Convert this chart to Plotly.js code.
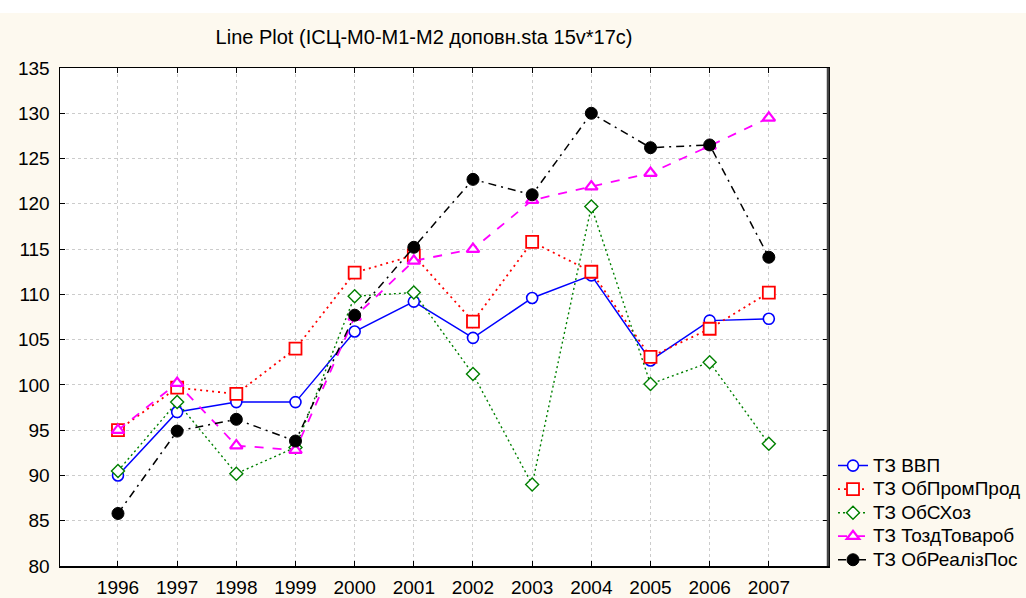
<!DOCTYPE html>
<html>
<head>
<meta charset="utf-8">
<script src="https://cdn.plot.ly/plotly-3.0.1.min.js"></script>
<style>
  html, body { margin: 0; padding: 0; background: #ffffff; }
  #chart { position: absolute; left: 0; top: 13px; width: 1026px; height: 585px; }
</style>
</head>
<body>
<div id="chart"></div>
<script>
const years = [1996, 1997, 1998, 1999, 2000, 2001, 2002, 2003, 2004, 2005, 2006, 2007];
const seriesNames = ["ТЗ ВВП", "ТЗ ОбПромПрод", "ТЗ ОбСХоз", "ТЗ ТоздТовароб", "ТЗ ОбРеалізПос"];
const vvp        = [90.0, 97.0, 98.1, 98.1, 105.9, 109.2, 105.2, 109.6, 112.1, 102.7, 107.1, 107.3];
const obPromProd = [95.0, 99.7, 99.0, 104.0, 112.4, 114.3, 107.0, 115.8, 112.5, 103.1, 106.2, 110.2];
const obSHoz     = [90.5, 98.1, 90.2, 93.1, 109.8, 110.2, 101.2, 89.0, 119.7, 100.1, 102.5, 93.5];
const tozdTovar  = [95.0, 100.2, 93.3, 92.8, 107.5, 113.7, 115.0, 120.4, 121.9, 123.4, 126.4, 129.5];
const obRealiz   = [85.8, 94.9, 96.2, 93.8, 107.7, 115.2, 122.7, 121.0, 130.0, 126.2, 126.5, 114.1];
const yTicks = [80, 85, 90, 95, 100, 105, 110, 115, 120, 125, 130, 135];
const titleText = "Line Plot (ІСЦ-М0-М1-М2 доповн.sta 15v*17c)";

const font = "Liberation Sans, Arial, sans-serif";

function tr(y, name, color, dash, width, symbol, size, fill, mlw) {
  return {
    type: "scatter", mode: "lines+markers", x: years, y: y,
    name: '<span style="font-size:19px">' + name + '</span>',
    line: { color: color, dash: dash, width: width },
    marker: { symbol: symbol, size: size, color: fill ? color : "#ffffff",
              line: { color: color, width: mlw } },
    cliponaxis: false
  };
}

const data = [
  tr(vvp, seriesNames[0], "#0000ff", "solid", 1.5, "circle", 11, false, 1.6),
  tr(obPromProd, seriesNames[1], "#ff0000", "2px,4px", 1.8, "square", 12, false, 1.8),
  tr(obSHoz, seriesNames[2], "#008000", "2px,3px", 1.4, "diamond", 10, false, 1.4),
  tr(tozdTovar, seriesNames[3], "#ff00ff", "dash", 1.8, "triangle-up", 11, false, 2.2),
  tr(obRealiz, seriesNames[4], "#000000", "8px,5px,2px,5px", 1.5, "circle", 12, true, 1)
];

const layout = {
  width: 1026, height: 585,
  paper_bgcolor: "#fdf9ef",
  plot_bgcolor: "#ffffff",
  margin: { l: 60, r: 198, t: 55, b: 32, autoexpand: false },
  font: { family: font, size: 19, color: "#000000" },
  title: { text: titleText, font: { family: font, size: 20, color: "#000" },
           x: 0.474, xref: "paper", xanchor: "center",
           y: 1 - 24 / 585, yref: "container", yanchor: "middle" },
  showlegend: true,
  legend: { xref: "container", x: 833 / 1026, xanchor: "left",
            yref: "container", y: 0.255, yanchor: "top",
            bgcolor: "rgba(0,0,0,0)", font: { family: font, size: 15.8 },
            tracegroupgap: 0 },
  xaxis: {
    range: [1995.02, 2008.0], tickvals: years, ticktext: years.map(String),
    showgrid: true, gridcolor: "#cccccc", griddash: "dot", gridwidth: 1,
    zeroline: false, showline: true, linecolor: "#000", linewidth: 1.5,
    mirror: "ticks", ticks: "inside", ticklen: 5, tickcolor: "#000", tickwidth: 1,
    ticklabelstandoff: 4,
    tickfont: { family: font, size: 19 }
  },
  yaxis: {
    range: [80, 135], tickvals: yTicks,
    showgrid: true, gridcolor: "#cccccc", griddash: "dot", gridwidth: 1,
    zeroline: false, showline: true, linecolor: "#000", linewidth: 1.5,
    mirror: "ticks", ticks: "inside", ticklen: 5, tickcolor: "#000", tickwidth: 1,
    ticklabelstandoff: 5,
    tickfont: { family: font, size: 19 }
  },
  shapes: [
    { type: "line", xref: "paper", yref: "paper", x0: 1, x1: 1, y0: 0, y1: 1,
      line: { color: "#444444", width: 2.5 }, layer: "above" }
  ]
};

Plotly.newPlot("chart", data, layout, { displayModeBar: false, staticPlot: true });
</script>
</body>
</html>
